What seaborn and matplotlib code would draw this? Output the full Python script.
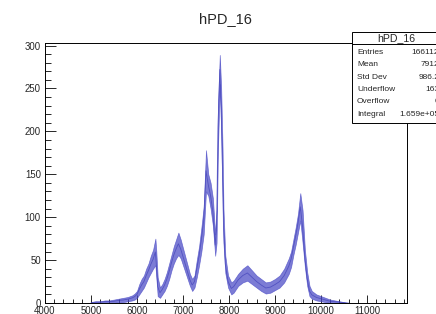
import numpy as np
import pandas as pd
import seaborn as sns
import matplotlib.pyplot as plt
from matplotlib.patches import Rectangle
from matplotlib.lines import Line2D

# envelope of the noisy histogram band (min / max count seen per channel region)
channel = [5000, 5100, 5200, 5300, 5400, 5500, 5600, 5700, 5800, 5900, 5950,
           6000, 6050, 6100, 6150, 6200, 6250, 6300, 6350, 6400, 6420, 6450,
           6500, 6550, 6600, 6650, 6700, 6750, 6800, 6850, 6900, 6950, 7000,
           7050, 7100, 7150, 7200, 7250, 7300, 7350, 7400, 7450, 7500, 7550,
           7600, 7650, 7700, 7730, 7760, 7800, 7830, 7860, 7880, 7920, 7980,
           8050, 8100, 8200, 8300, 8400, 8500, 8600, 8700, 8800, 8900, 9000,
           9100, 9200, 9300, 9350, 9400, 9450, 9500, 9550, 9600, 9650, 9700,
           9750, 9800, 9900, 10000, 10100, 10200, 10300, 10400, 10500, 10600]
count_lo = [0, 0, 0, 0, 0, 0, 1, 1, 2, 3, 4,
            6, 10, 14, 18, 24, 30, 35, 40, 44, 30, 8,
            6, 10, 14, 20, 28, 38, 46, 52, 56, 52, 44,
            36, 28, 20, 14, 18, 30, 44, 60, 80, 130, 125,
            110, 90, 55, 70, 180, 255, 200, 120, 70, 35, 18,
            10, 12, 20, 24, 26, 22, 18, 14, 11, 12, 15,
            18, 24, 34, 42, 56, 68, 82, 96, 70, 42, 20,
            8, 5, 3, 2, 1, 0, 0, 0, 0, 0]
count_hi = [1, 2, 2, 3, 3, 4, 5, 6, 7, 9, 11,
            14, 22, 28, 32, 40, 46, 55, 62, 75, 60, 30,
            18, 22, 28, 36, 46, 56, 66, 74, 82, 74, 64,
            54, 44, 34, 28, 32, 50, 66, 88, 112, 178, 150,
            140, 122, 80, 110, 230, 289, 250, 180, 110, 55, 32,
            24, 26, 34, 40, 44, 38, 32, 28, 24, 25, 28,
            32, 40, 52, 60, 74, 88, 104, 128, 108, 62, 36,
            20, 14, 10, 8, 6, 4, 3, 2, 1, 0]

stat_names = ["Entries", "Mean", "Std Dev", "Underflow", "Overflow", "Integral"]
stat_values = ["166112", "7912", "986.2", "163", "0", "1.659e+05"]

W, H = 436, 314
blue = "#4a4ac6"

sns.set_style("ticks")
plt.rcParams["font.family"] = ["Liberation Sans", "DejaVu Sans"]

df = pd.DataFrame({"channel": channel, "lo": count_lo, "hi": count_hi})
df["mid"] = (df["lo"] + df["hi"]) / 2

fig = plt.figure(figsize=(W / 100, H / 100), dpi=100)
ax = fig.add_axes([45 / W, 1 - 303 / H, (407 - 45) / W, (303 - 42.5) / H])

ax.fill_between(df["channel"], df["lo"], df["hi"], color=blue, alpha=0.72, lw=0.5)
sns.lineplot(data=df, x="channel", y="mid", color="#3636b4", lw=0.6, alpha=0.6, ax=ax)

ax.set_xlim(4000, 11870)
ax.set_ylim(0, 303.5)
ax.set_xlabel("")
ax.set_ylabel("")
ax.set_xticks(np.arange(4000, 11001, 1000))
ax.set_xticks(np.arange(4000, 11801, 200), minor=True)
ax.set_yticks(np.arange(0, 301, 50))
ax.set_yticks(np.arange(0, 301, 10), minor=True)
ax.tick_params(axis="x", which="major", direction="in", length=5.5, width=0.7,
               labelsize=6.9, pad=2.5)
ax.tick_params(axis="x", which="minor", direction="in", length=2.8, width=0.7)
ax.tick_params(axis="y", which="major", direction="in", length=8, width=0.7,
               labelsize=6.9, pad=3)
ax.tick_params(axis="y", which="minor", direction="in", length=4, width=0.7)
for s in ax.spines.values():
    s.set_linewidth(0.7)
    s.set_color("black")

fig.text(225 / W, 1 - 19 / H, "hPD_16", ha="center", va="center", fontsize=10.5)

# stats box
box_l, box_t, box_b = 352, 32, 123
fig.add_artist(Rectangle((box_l / W, 1 - box_b / H), (445 - box_l) / W, (box_b - box_t) / H,
                         transform=fig.transFigure, facecolor="white",
                         edgecolor="black", lw=0.7))
fig.add_artist(Line2D([box_l / W, 1], [1 - 43.5 / H, 1 - 43.5 / H],
                      transform=fig.transFigure, color="black", lw=0.7))
fig.text(396 / W, 1 - 38 / H, "hPD_16", ha="center", va="center", fontsize=7.6)
for i, (name, val) in enumerate(zip(stat_names, stat_values)):
    yy = 1 - (52 + 12.5 * i) / H
    fig.text(357 / W, yy, name, ha="left", va="center", fontsize=6)
    fig.text(439 / W, yy, val, ha="right", va="center", fontsize=6)

fig.savefig("out.png", dpi=100)
